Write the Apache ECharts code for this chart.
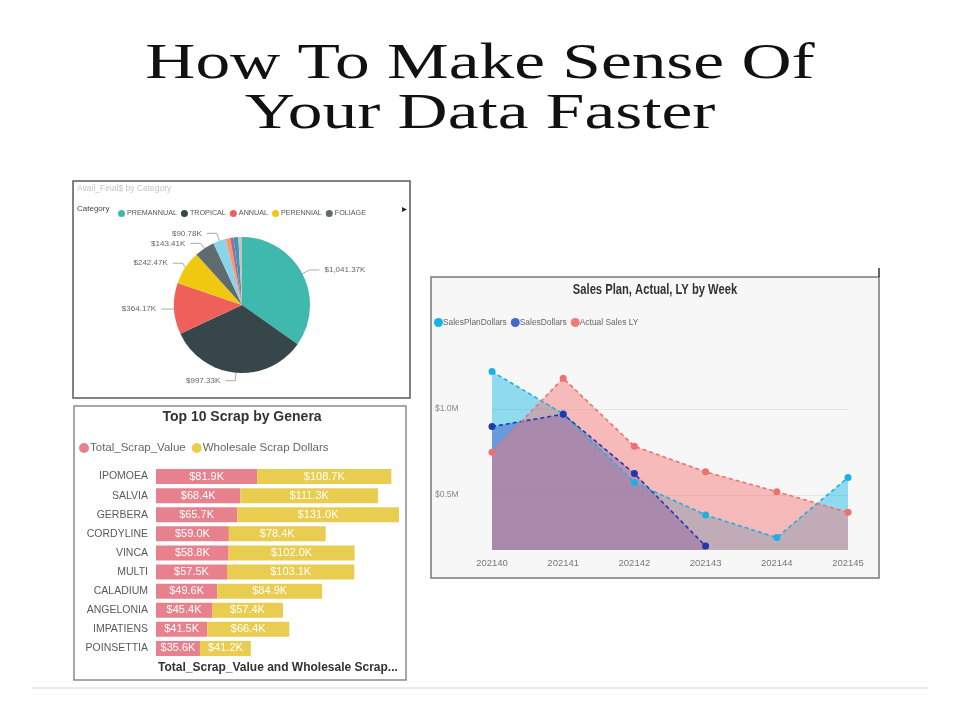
<!DOCTYPE html>
<html>
<head>
<meta charset="utf-8">
<script src="https://cdn.jsdelivr.net/npm/echarts@6/dist/echarts.min.js"></script>
<style>
  html, body { margin: 0; padding: 0; background: #fff; }
  #main { width: 960px; height: 720px; }
</style>
</head>
<body>
<div id="main"></div>
<script>
// pie: Avail_Final$ by Category (values in K$)
var categoryNames = ['PREMANNUAL', 'TROPICAL', 'ANNUAL', 'PERENNIAL', 'FOLIAGE', 'HOUSEPLANT', 'BULB', 'HERB', 'VEGETABLE', 'SUCCULENT'];
var categoryValues = [1041.37, 997.33, 364.17, 242.47, 143.41, 90.78, 32, 24, 34, 26];
var categoryColors = ['#3FB8AD', '#374649', '#F0605A', '#F0C810', '#5F6B6D', '#8AD4EB', '#FE9666', '#A66999', '#3599B8', '#C9C0C0'];

// bars: Top 10 Scrap by Genera (K$)
var genera = ['IPOMOEA', 'SALVIA', 'GERBERA', 'CORDYLINE', 'VINCA', 'MULTI', 'CALADIUM', 'ANGELONIA', 'IMPATIENS', 'POINSETTIA'];
var scrapValue = [81.9, 68.4, 65.7, 59.0, 58.8, 57.5, 49.6, 45.4, 41.5, 35.6];
var wholesaleScrap = [108.7, 111.3, 131.0, 78.4, 102.0, 103.1, 84.9, 57.4, 66.4, 41.2];

// area: Sales Plan, Actual, LY by Week (M$)
var weeks = ['202140', '202141', '202142', '202143', '202144', '202145'];
var salesPlan = [1.217, 0.971, 0.572, 0.384, 0.252, 0.601];
var salesDollars = [0.897, 0.969, 0.624, 0.203, null, null];
var salesLY = [0.748, 1.178, 0.783, 0.634, 0.519, 0.399];

var sans = '"Liberation Sans", Arial, sans-serif';
var serif = '51px "Liberation Serif", "Times New Roman", serif';

var chart = echarts.init(document.getElementById('main'));

var pieData = categoryNames.map(function (n, i) {
  var d = { name: n, value: categoryValues[i], itemStyle: { color: categoryColors[i] } };
  if (i > 5) { d.label = { show: false }; d.labelLine = { show: false }; }
  return d;
});

function kFmt(v) {
  var s = v.toFixed(2).split('.');
  s[0] = s[0].replace(/\B(?=(\d{3})+(?!\d))/g, ',');
  return '$' + s.join('.') + 'K';
}

function areaSeries(name, data, color, opacity) {
  return {
    name: name, type: 'line', data: data, z: 1,
    xAxisIndex: 1, yAxisIndex: 1,
    symbol: 'none', lineStyle: { width: 0 },
    itemStyle: { color: color },
    areaStyle: { color: color, opacity: opacity, origin: 'start' },
    silent: true
  };
}
function lineSeries(name, data, color) {
  return {
    name: name, type: 'line', data: data, z: 3,
    xAxisIndex: 1, yAxisIndex: 1,
    symbol: 'circle', symbolSize: 7,
    itemStyle: { color: color },
    lineStyle: { color: color, width: 1.6, type: [4, 3] }
  };
}

// faint gridlines behind the areas
var gridLines = {
  name: 'grid', type: 'line', data: [], z: 0, xAxisIndex: 1, yAxisIndex: 1,
  markLine: {
    silent: true, symbol: 'none', label: { show: false }, z: 0,
    lineStyle: { color: '#e4e4e4', type: 'solid', width: 1 },
    data: [{ yAxis: 0.5 }, { yAxis: 1.0 }]
  }
};

var option = {
  animation: false,
  textStyle: { fontFamily: sans },
  graphic: [
    { type: 'text', x: 480, y: 64.5, scaleX: 1.36, style: { text: 'How To Make Sense Of', font: serif, fill: '#111', align: 'center', verticalAlign: 'middle' } },
    { type: 'text', x: 480, y: 114.5, scaleX: 1.36, style: { text: 'Your Data Faster', font: serif, fill: '#111', align: 'center', verticalAlign: 'middle' } },

    // pie panel
    { type: 'rect', shape: { x: 73, y: 181, width: 337, height: 217 }, style: { fill: '#fff', stroke: '#5a5a5a', lineWidth: 1.5 }, z: -1 },
    { type: 'text', x: 77, y: 189, style: { text: 'Avail_Final$ by Category', font: '8.5px ' + sans, fill: '#c4c4c4', verticalAlign: 'middle' } },
    { type: 'text', x: 77, y: 209, style: { text: 'Category', font: '8px ' + sans, fill: '#444', verticalAlign: 'middle' } },
    { type: 'text', x: 404, y: 209, style: { text: '\u25B8', font: '10px sans-serif', fill: '#222', align: 'center', verticalAlign: 'middle' } },

    // bar panel
    { type: 'rect', shape: { x: 74, y: 406, width: 332, height: 274 }, style: { fill: '#fff', stroke: '#8a8a8a', lineWidth: 1.5 }, z: -1 },
    { type: 'text', x: 242, y: 417, style: { text: 'Top 10 Scrap by Genera', font: 'bold 14px ' + sans, fill: '#333', align: 'center', verticalAlign: 'middle' } },
    { type: 'text', x: 158, y: 668, style: { text: 'Total_Scrap_Value and Wholesale Scrap...', font: 'bold 12px ' + sans, fill: '#333', verticalAlign: 'middle' } },

    // line panel
    { type: 'rect', shape: { x: 431, y: 277, width: 448, height: 301 }, style: { fill: '#f7f7f7', stroke: '#7a7a7a', lineWidth: 1.5 }, z: -1 },
    { type: 'line', shape: { x1: 879, y1: 268, x2: 879, y2: 277 }, style: { stroke: '#333', lineWidth: 1.5 } },
    { type: 'text', x: 655, y: 290, scaleX: 0.8, style: { text: 'Sales Plan, Actual, LY by Week', font: 'bold 14px ' + sans, fill: '#333', align: 'center', verticalAlign: 'middle' } },

    // separator at the bottom
    { type: 'line', shape: { x1: 32, y1: 688, x2: 928, y2: 688 }, style: { stroke: '#d6d6d6', lineWidth: 1 } }
  ],
  legend: [
    {
      data: categoryNames.slice(0, 5), left: 113, top: 205, icon: 'circle',
      itemWidth: 7, itemHeight: 7, itemGap: 4,
      textStyle: { fontSize: 7.2, color: '#555', padding: [0, 0, 0, -3] }
    },
    {
      data: ['Total_Scrap_Value', 'Wholesale Scrap Dollars'], left: 74, top: 437, icon: 'circle',
      itemWidth: 10, itemHeight: 10, itemGap: 6,
      textStyle: { fontSize: 11.5, color: '#666', padding: [0, 0, 0, -4] }
    },
    {
      data: ['SalesPlanDollars', 'SalesDollars', 'Actual Sales LY'], left: 429, top: 313, icon: 'circle',
      itemWidth: 9, itemHeight: 9, itemGap: 4,
      textStyle: { fontSize: 8.4, color: '#666', padding: [0, 0, 0, -5] }
    }
  ],
  grid: [
    { left: 156, top: 467, width: 247, height: 191 },
    { left: 492, top: 340, width: 356, height: 210 }
  ],
  xAxis: [
    { gridIndex: 0, type: 'value', min: 0, max: 200, show: false },
    {
      gridIndex: 1, type: 'category', data: weeks, boundaryGap: false,
      axisLine: { show: false }, axisTick: { show: false },
      axisLabel: { color: '#777', fontSize: 9.5, margin: 8 }
    }
  ],
  yAxis: [
    {
      gridIndex: 0, type: 'category', data: genera, inverse: true,
      axisLine: { show: false }, axisTick: { show: false },
      axisLabel: { color: '#5a5a5a', fontSize: 10.5, margin: 8 }
    },
    {
      gridIndex: 1, type: 'value', min: 0.18, max: 1.4,
      splitLine: { show: false }, axisLine: { show: false }, axisTick: { show: false },
      axisLabel: {
        customValues: [0.5, 1.0], color: '#888', fontSize: 8.5, align: 'left', margin: 57,
        formatter: function (v) { return '$' + v.toFixed(1) + 'M'; }
      }
    }
  ],
  series: [
    {
      type: 'pie', center: [242, 305], radius: 68, startAngle: 90,
      data: pieData,
      label: {
        color: '#666', fontSize: 8,
        formatter: function (p) { return kFmt(p.value); }
      },
      labelLine: { length: 8, length2: 10, lineStyle: { color: '#aaa', width: 1 } },
      emphasis: { disabled: true }
    },
    {
      name: 'Total_Scrap_Value', type: 'bar', stack: 'scrap', data: scrapValue,
      barWidth: 15, itemStyle: { color: '#E8818E' },
      label: { show: true, color: '#fff', fontSize: 11, formatter: function (p) { return '$' + p.value.toFixed(1) + 'K'; } }
    },
    {
      name: 'Wholesale Scrap Dollars', type: 'bar', stack: 'scrap', data: wholesaleScrap,
      barWidth: 15, itemStyle: { color: '#E8CD50' },
      label: { show: true, color: '#fff', fontSize: 11, formatter: function (p) { return '$' + p.value.toFixed(1) + 'K'; } }
    },
    gridLines,
    areaSeries('SalesPlanDollars', salesPlan, '#12B5E5', 0.45),
    areaSeries('SalesDollars', salesDollars, '#4568CC', 0.55),
    areaSeries('Actual Sales LY', salesLY, '#F57878', 0.48),
    lineSeries('SalesPlanDollars', salesPlan, '#1AB2E3'),
    lineSeries('SalesDollars', salesDollars, '#1F3AAE'),
    lineSeries('Actual Sales LY', salesLY, '#F07070')
  ]
};

chart.setOption(option);
</script>
</body>
</html>
